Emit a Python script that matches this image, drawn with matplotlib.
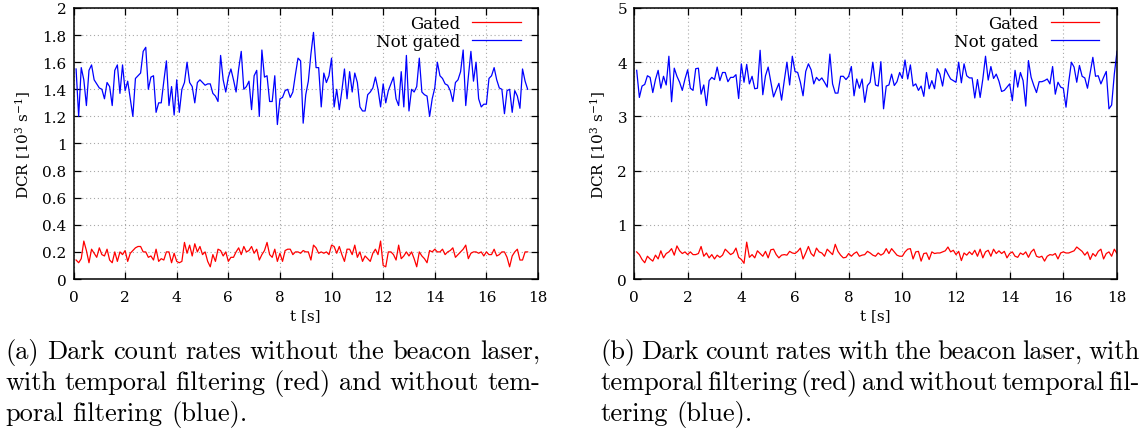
import numpy as np
import matplotlib
matplotlib.use("Agg")
import matplotlib.pyplot as plt
from matplotlib.ticker import MultipleLocator, FuncFormatter

# ---- measured dark count rates, 10^3 counts per second, sampled every 0.1 s ----
# without beacon laser
dcr_a_not_gated = [
    1.55, 1.20, 1.56, 1.47, 1.28, 1.54, 1.58, 1.47, 1.44, 1.41,
    1.40, 1.33, 1.45, 1.42, 1.28, 1.54, 1.58, 1.37, 1.58, 1.39,
    1.46, 1.33, 1.20, 1.48, 1.50, 1.52, 1.68, 1.71, 1.40, 1.49,
    1.50, 1.23, 1.30, 1.30, 1.46, 1.61, 1.28, 1.42, 1.21, 1.47,
    1.23, 1.40, 1.45, 1.60, 1.45, 1.42, 1.30, 1.45, 1.47, 1.45,
    1.43, 1.44, 1.44, 1.37, 1.35, 1.31, 1.65, 1.47, 1.38, 1.49,
    1.55, 1.47, 1.38,
    1.55, 1.68, 1.40, 1.42, 1.46, 1.25, 1.50, 1.54, 1.20, 1.69,
    1.49, 1.50, 1.31, 1.31, 1.50, 1.14, 1.33, 1.34, 1.39, 1.40,
    1.34, 1.38, 1.51, 1.63, 1.61, 1.15, 1.36, 1.46, 1.66, 1.82,
    1.56, 1.56, 1.27, 1.52, 1.45, 1.50, 1.63, 1.27, 1.40, 1.25,
    1.39, 1.55, 1.33, 1.53, 1.38, 1.52, 1.45, 1.27, 1.24, 1.24,
    1.36, 1.38, 1.41, 1.49, 1.40, 1.27, 1.44, 1.30, 1.39, 1.44,
    1.49,
    1.33, 1.28, 1.53, 1.27, 1.65, 1.24, 1.40, 1.38, 1.42, 1.63,
    1.38, 1.36, 1.35, 1.20, 1.33, 1.41, 1.60, 1.50, 1.48, 1.44,
    1.43, 1.39, 1.31, 1.45, 1.47, 1.53, 1.69, 1.28, 1.49, 1.68,
    1.46, 1.60, 1.33, 1.27, 1.29, 1.29, 1.48, 1.50, 1.56, 1.47,
    1.41, 1.40, 1.22, 1.39, 1.40, 1.23, 1.39, 1.35, 1.26, 1.55,
    1.46, 1.40,
]
dcr_a_gated = [
    0.14, 0.12, 0.15, 0.28, 0.21, 0.12, 0.22, 0.19, 0.16, 0.23,
    0.18, 0.17, 0.22, 0.14, 0.12, 0.20, 0.13, 0.20, 0.18, 0.21,
    0.13, 0.19, 0.21, 0.23, 0.24, 0.24, 0.20, 0.20, 0.16, 0.17,
    0.14, 0.22, 0.13, 0.15, 0.14, 0.20, 0.20, 0.12, 0.19, 0.13,
    0.12, 0.13, 0.27, 0.19, 0.25, 0.17, 0.26, 0.20, 0.24, 0.18,
    0.20, 0.13, 0.09, 0.18, 0.13, 0.22, 0.21, 0.17, 0.20, 0.13,
    0.16, 0.16, 0.20, 0.23, 0.18, 0.24, 0.20, 0.21, 0.24, 0.19,
    0.22, 0.14, 0.18, 0.21, 0.27, 0.18, 0.16, 0.22, 0.13, 0.19,
    0.13, 0.21, 0.22, 0.22, 0.18, 0.20, 0.20, 0.19, 0.21, 0.20,
    0.20,
    0.14, 0.25, 0.23, 0.19, 0.20, 0.19, 0.20, 0.18, 0.25, 0.24,
    0.19, 0.24, 0.18, 0.13, 0.22, 0.22, 0.18, 0.25, 0.16, 0.20,
    0.13, 0.17, 0.15, 0.13, 0.19, 0.22, 0.18, 0.28, 0.10, 0.09,
    0.20, 0.20, 0.18, 0.14, 0.25, 0.15, 0.17, 0.20, 0.17, 0.20,
    0.15, 0.09, 0.20, 0.17, 0.15, 0.12, 0.21, 0.20, 0.22, 0.20,
    0.20, 0.22, 0.18, 0.20, 0.21, 0.23, 0.16, 0.18, 0.20, 0.22,
    0.25, 0.15, 0.19, 0.20, 0.20, 0.19, 0.20, 0.17, 0.20, 0.18,
    0.18, 0.22, 0.17, 0.18, 0.20, 0.20, 0.16, 0.09, 0.17, 0.20,
    0.22, 0.14, 0.14, 0.20, 0.20,
]
# with beacon laser
dcr_b_not_gated = [
    3.85,
    3.35, 3.56, 3.59, 3.75, 3.72, 3.44, 3.68, 3.85, 3.52, 3.74,
    3.58, 4.11, 3.27, 3.89, 3.74, 3.63, 3.48, 3.69, 3.86, 3.52,
    3.48, 3.88, 3.89, 3.41, 3.58, 3.20, 3.66, 3.72, 3.68, 3.91,
    3.66, 3.81, 3.81, 3.64, 3.72, 3.72, 3.77, 3.33, 3.97, 3.63,
    3.96, 3.60, 3.74, 3.51, 3.52, 4.22, 3.40, 3.75, 3.91, 3.64,
    3.36, 3.49, 3.61, 3.30, 3.66, 4.00, 3.58, 4.11, 3.83, 3.81,
    3.63, 3.38, 3.83, 3.97,
    3.86, 3.60, 3.72, 3.66, 3.71, 3.63, 3.54, 4.15, 3.60, 3.43,
    3.43, 3.74, 3.74, 3.68, 3.74, 3.92, 3.38, 3.69, 3.52, 3.69,
    3.26, 3.57, 3.63, 4.00, 3.58, 3.56, 4.01, 3.14, 3.56, 3.58,
    3.78, 3.57, 3.64, 3.81, 3.70, 4.04, 3.69, 3.95, 3.56, 3.60,
    3.48, 3.56, 3.37, 3.81, 3.51, 3.66, 3.51, 3.88, 3.78, 3.56,
    3.88, 3.78, 3.69, 3.66, 3.63, 4.00, 3.62, 3.97, 3.75, 3.71,
    3.71, 3.34, 3.68, 3.35, 3.69, 4.11, 3.67, 3.92, 3.70, 3.78,
    3.65, 3.46, 3.48, 3.54, 3.60, 3.29, 3.85, 3.54, 3.81, 3.66,
    3.19, 4.03, 3.72, 3.57, 3.44, 3.64, 3.64, 3.66, 3.69, 3.60,
    3.92, 3.41, 3.63, 3.54, 3.52, 3.17, 3.63, 4.00, 3.91, 3.63,
    3.94, 3.74, 3.71, 3.52, 3.81, 4.09, 3.74, 3.75, 3.60, 3.72,
    3.83, 3.14, 3.21, 3.78, 4.20,
]
dcr_b_gated = [
    0.50,
    0.45, 0.36, 0.30, 0.42, 0.37, 0.33, 0.44, 0.37, 0.52, 0.39,
    0.47, 0.50, 0.56, 0.44, 0.61, 0.52, 0.47, 0.50, 0.45, 0.50,
    0.45, 0.45, 0.47, 0.60, 0.42, 0.48, 0.39, 0.45, 0.37, 0.44,
    0.40, 0.44, 0.55, 0.50, 0.45, 0.48, 0.57, 0.40, 0.36, 0.29,
    0.68, 0.40, 0.45, 0.39, 0.52, 0.47, 0.42, 0.51, 0.39, 0.54,
    0.55, 0.45, 0.39, 0.44, 0.45, 0.44, 0.51, 0.48, 0.47, 0.51,
    0.57, 0.37, 0.48, 0.60, 0.47, 0.42, 0.57, 0.50, 0.48, 0.42,
    0.55, 0.50, 0.45, 0.64, 0.51, 0.44, 0.39, 0.40, 0.47, 0.42,
    0.47, 0.50, 0.42, 0.44, 0.45, 0.51, 0.48, 0.44, 0.42, 0.48,
    0.44, 0.47, 0.56, 0.47, 0.56, 0.50,
    0.44, 0.42, 0.42, 0.50, 0.55, 0.56, 0.37, 0.50, 0.51, 0.33,
    0.47, 0.48, 0.36, 0.50, 0.47, 0.48, 0.48, 0.50, 0.52, 0.59,
    0.50, 0.53, 0.45, 0.51, 0.34, 0.48, 0.44, 0.50, 0.45, 0.53,
    0.42, 0.55, 0.39, 0.50, 0.53, 0.42, 0.55, 0.47, 0.52,
    0.47, 0.51, 0.39, 0.47, 0.50, 0.42, 0.40, 0.48, 0.45, 0.50,
    0.40, 0.50, 0.55, 0.42, 0.40, 0.42, 0.33, 0.42, 0.45,
    0.44, 0.47, 0.37, 0.48, 0.50, 0.48, 0.48, 0.50, 0.52, 0.59,
    0.55, 0.51, 0.44, 0.50, 0.36, 0.47, 0.42, 0.51, 0.55, 0.37,
    0.47, 0.50, 0.42, 0.55, 0.47,
]

SAMPLE_DT = 0.1
x_ticks = [0, 2, 4, 6, 8, 10, 12, 14, 16, 18]
legend_labels = ["Gated", "Not gated"]
y_label = r"DCR [10$^{3}$ s$^{-1}$]"
x_label = "t [s]"

caption_a = [
    ("(a) Dark count rates without the beacon laser,", True),
    ("with temporal filtering (red) and without tem-", True),
    ("poral filtering (blue).", False),
]
caption_b = [
    ("(b) Dark count rates with the beacon laser, with", True),
    ("temporal filtering (red) and without temporal fil-", True),
    ("tering (blue).", False),
]


def times(series):
    return SAMPLE_DT * np.arange(1, len(series) + 1)


plt.rcParams["font.family"] = ["DejaVu Serif"]
plt.rcParams["mathtext.fontset"] = "dejavuserif"

W, H = 1142, 439
fig = plt.figure(figsize=(W / 100, H / 100), dpi=100)

TICK_FS = 11
LEG_FS = 12


def px_axes(x0, x1, y_top, y_bot):
    return fig.add_axes([x0 / W, 1 - y_bot / H, (x1 - x0) / W, (y_bot - y_top) / H])


def style(ax, ymax, ystep):
    ax.set_xlim(0, 18)
    ax.set_ylim(0, ymax)
    ax.set_xticks(x_ticks)
    ax.yaxis.set_major_locator(MultipleLocator(ystep))
    ax.yaxis.set_major_formatter(FuncFormatter(lambda v, p: f"{v:g}"))
    ax.tick_params(direction="in", length=5, width=0.9, top=True, right=True,
                   labelsize=TICK_FS, colors="black", pad=5)
    ax.tick_params(axis="x", pad=8)
    ax.grid(True, color="#a8a8a8", linestyle=(0, (1, 2.5)), linewidth=0.8)
    for s in ax.spines.values():
        s.set_linewidth(1.1)
    ax.set_xlabel(x_label, fontsize=TICK_FS, labelpad=3)
    ax.set_ylabel(y_label, fontsize=TICK_FS, labelpad=7)


def draw(ax, gated, not_gated):
    ax.plot(times(gated), gated, color="#ff0000", lw=0.9, label=legend_labels[0])
    ax.plot(times(not_gated), not_gated, color="#0000ff", lw=0.9, label=legend_labels[1])
    ax.legend(loc="upper right", bbox_to_anchor=(0.963, 0.975), frameon=False,
              markerfirst=False, handlelength=2.9, handletextpad=0.75,
              labelspacing=0.05, borderpad=0.0, borderaxespad=0.0,
              fontsize=LEG_FS)


ax_a = px_axes(73.5, 538, 9, 280)
draw(ax_a, dcr_a_gated, dcr_a_not_gated)
style(ax_a, 2, 0.2)

ax_b = px_axes(634, 1117, 9, 280)
draw(ax_b, dcr_b_gated, dcr_b_not_gated)
style(ax_b, 5, 1)

# ---- sub-figure captions, set in Computer Modern and justified ----
renderer = fig.canvas.get_renderer()
CAP_FS = 19
CAP_FONT = "cmr10"


def caption(lines, x0, x1, baseline0, leading):
    space = CAP_FS * 0.333 * 100 / 72
    for i, (line, justify) in enumerate(lines):
        yb = baseline0 + i * leading
        words = line.split(" ")
        texts = [fig.text(0, 1 - yb / H, w, fontsize=CAP_FS, family=CAP_FONT,
                          va="baseline", ha="left") for w in words]
        widths = [t.get_window_extent(renderer).width for t in texts]
        if justify and len(words) > 1:
            gap = (x1 - x0 - sum(widths)) / (len(words) - 1)
        else:
            gap = space
        x = x0
        for t, w in zip(texts, widths):
            t.set_x(x / W)
            x += w + gap


caption(caption_a, 5, 540, 359, 31)
caption(caption_b, 600, 1140, 359, 31)

fig.savefig("out.png", dpi=100)
